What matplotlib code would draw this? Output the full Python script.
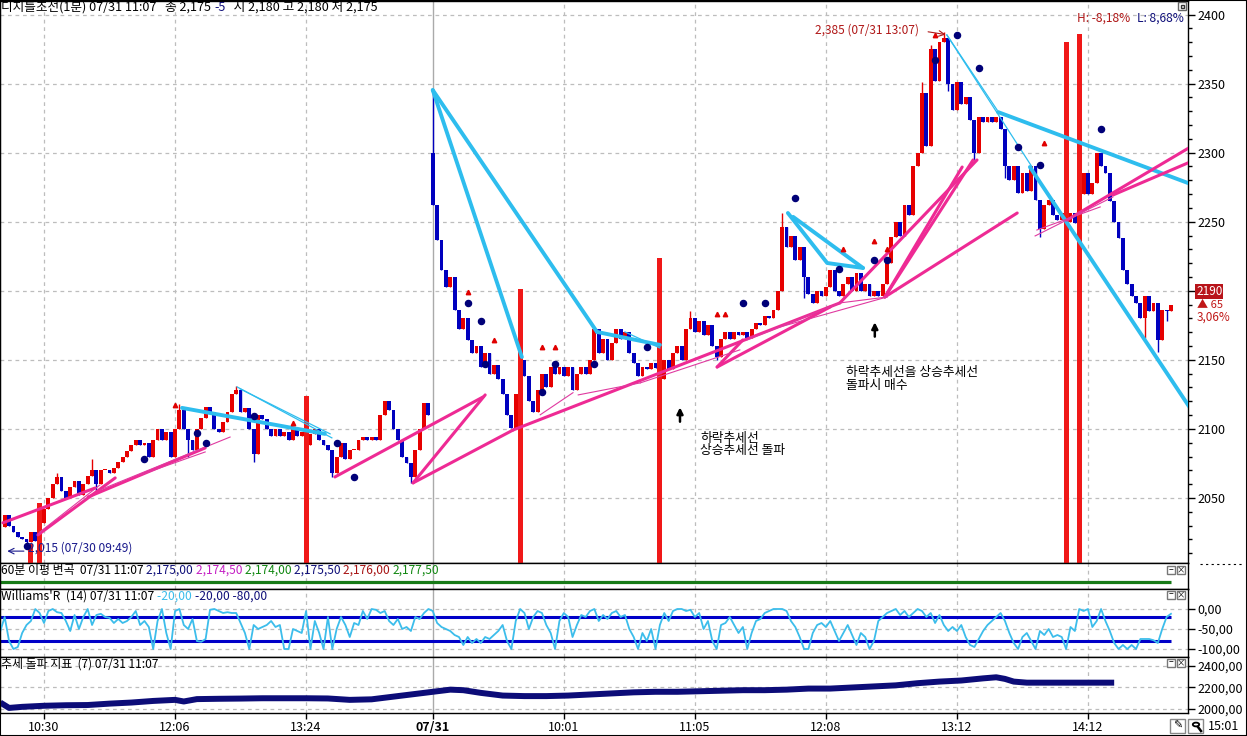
import numpy as np
import matplotlib
matplotlib.use('Agg')
import matplotlib.pyplot as plt
from matplotlib.transforms import blended_transform_factory as blend
from matplotlib.patches import Rectangle, Circle
from matplotlib.lines import Line2D
from matplotlib.ticker import MultipleLocator

plt.rcParams['font.family'] = ['Noto Sans CJK KR', 'DejaVu Sans']
plt.rcParams['axes.unicode_minus'] = False

# ---------------- data ----------------
time_ticks = [10, 40, 70, 99, 129, 159, 189, 219, 249]
time_labels = ['10:30', '12:06', '13:24', '07/31', '10:01', '11:05', '12:08', '13:12', '14:12']
day_break = 99

closes = [
    2038, 2030, 2025, 2022, 2020, 2018, 2025, 2019, 2032, 2042,
    2050, 2060, 2065, 2055, 2050, 2058, 2062, 2052, 2060, 2066,
    2070, 2060, 2070, 2070, 2068, 2072, 2076, 2080, 2084, 2088,
    2092, 2088, 2090, 2080, 2092, 2100, 2092, 2098, 2080, 2100,
    2114, 2100, 2092, 2085, 2100, 2108, 2116, 2112, 2100, 2098,
    2105, 2112, 2125, 2128, 2112, 2115, 2100, 2082, 2110, 2107,
    2100, 2095, 2100, 2095, 2098, 2092, 2100, 2095, 2098, 2088,
    2096, 2100, 2092, 2088, 2085, 2068, 2080, 2090, 2078, 2085,
    2085, 2092, 2094, 2092, 2094, 2092, 2110, 2120, 2114, 2100,
    2092, 2080, 2075, 2065, 2085, 2100, 2119, 2110, 2262, 2237,
    2215, 2203, 2210, 2186, 2172, 2180, 2164, 2155, 2160, 2145,
    2155, 2140, 2146, 2136, 2125, 2110, 2101, 2125, 2150, 2138,
    2120, 2112, 2128, 2140, 2130, 2145, 2140, 2145, 2138, 2145,
    2128, 2140, 2145, 2140, 2150, 2172, 2155, 2165, 2150, 2162,
    2172, 2165, 2170, 2155, 2148, 2138, 2145, 2143, 2148, 2144,
    2136, 2150, 2143, 2155, 2160, 2150, 2172, 2180, 2170, 2178,
    2168, 2175, 2160, 2152, 2165, 2170, 2165, 2170, 2168, 2170,
    2166, 2172, 2177, 2175, 2182, 2180, 2186, 2200, 2246, 2232,
    2240, 2222, 2232, 2210, 2198, 2191, 2200, 2196, 2203, 2215,
    2200, 2196, 2205, 2210, 2200, 2213, 2200, 2205, 2196, 2200,
    2196, 2205, 2220, 2239, 2250, 2240, 2262, 2255, 2290, 2300,
    2343, 2305, 2375, 2352, 2380, 2383, 2350, 2331, 2351, 2335,
    2340, 2324, 2300, 2326, 2322, 2326, 2322, 2326, 2317, 2290,
    2280, 2290, 2271, 2285, 2272, 2290, 2266, 2245, 2262, 2266,
    2255, 2251, 2256, 2250, 2256, 2249, 2270, 2285, 2270, 2278,
    2300, 2290, 2285, 2265, 2250, 2238, 2215, 2205, 2196, 2191,
    2180, 2196, 2185, 2191, 2164, 2186, 2185, 2190]
open_override = {1: 2029, 99: 2300}
high_override = {13: 2068, 21: 2078, 41: 2118, 54: 2131, 89: 2120, 99: 2345,
                 158: 2185, 179: 2256, 211: 2351, 213: 2378, 216: 2387}
low_override = {6: 2015, 22: 2055, 43: 2080, 58: 2076, 76: 2065, 94: 2061,
                164: 2150, 184: 2195, 217: 2345, 223: 2295, 230: 2282, 238: 2239,
                262: 2166, 265: 2156, 267: 2178}

signal_idx = [7, 9, 70, 119, 151, 244, 247]
signal_top = [2017, 2046, 2124, 2201, 2224, 2380, 2386]

tri_idx = [40, 67, 107, 113, 124, 127, 164, 166, 193, 200, 203, 214, 239]
tri_price = [2117, 2104, 2199, 2164, 2159, 2159, 2183, 2183, 2230, 2236, 2230, 2385, 2307]
dot_idx = [6, 33, 45, 47, 58, 77, 81, 107, 110, 111, 124, 127, 136, 148, 170, 175, 182,
           192, 200, 203, 214, 219, 224, 233, 238, 252]
dot_price = [2015, 2078, 2097, 2090, 2109, 2090, 2065, 2191, 2178, 2147, 2127, 2147, 2147,
             2159, 2191, 2191, 2267, 2216, 2222, 2222, 2367, 2385, 2361, 2304, 2291, 2317]

cyan_thick = [
    [(99.0, 2345.3), (119.4, 2152.0)],
    [(99.0, 2345.3), (136.6, 2170.2)],
    [(136.6, 2170.2), (151.0, 2160.8)],
    [(41.6, 2115.2), (74.3, 2096.4)],
    [(181.5, 2253.5), (197.5, 2216.5)],
    [(180.3, 2256.3), (189.3, 2220.1), (197.5, 2216.5)],
    [(228.4, 2329.4), (272.5, 2277.3)],
    [(235.7, 2289.6), (272.5, 2114.5)],
]
cyan_thin = [
    [(143.0, 2170.2), (151.0, 2158.6)],
    [(54.2, 2130.4), (75.9, 2093.5)],
    [(54.9, 2129.0), (75.5, 2096.4)],
    [(216.7, 2385.2), (228.2, 2330.9)],
    [(216.7, 2385.2), (236.2, 2289.6)],
]
pink_thick = [
    [(0.6, 2032.0), (21.7, 2057.2)],
    [(8.6, 2023.2), (26.3, 2064.5)],
    [(20.1, 2050.7), (46.9, 2086.2)],
    [(76.6, 2065.2), (110.5, 2123.1)],
    [(94.5, 2060.9), (111.0, 2124.6)],
    [(94.5, 2060.9), (117.4, 2099.2)],
    [(117.4, 2099.2), (192.2, 2191.2)],
    [(164.1, 2144.8), (190.0, 2188.3)],
    [(164.1, 2144.8), (170.0, 2164.4)],
    [(192.2, 2191.2), (223.6, 2294.7)],
    [(202.5, 2195.5), (222.7, 2294.7)],
    [(202.5, 2195.5), (220.2, 2289.6)],
    [(202.5, 2195.5), (232.8, 2256.3)],
    [(244.2, 2251.2), (272.5, 2304.2)],
    [(254.7, 2269.3), (272.5, 2293.4)],
]
pink_thin = [
    [(9.1, 2025.4), (22.8, 2059.4)],
    [(22.8, 2055.8), (52.6, 2094.1)],
    [(32.0, 2066.6), (46.9, 2083.3)],
    [(123.6, 2110.2), (131.1, 2126.2)],
    [(132.3, 2124.6), (146.5, 2133.3)],
    [(146.5, 2133.3), (169.3, 2157.2)],
    [(170.9, 2164.4), (192.2, 2191.2)],
    [(178.5, 2173.8), (203.0, 2195.5)],
    [(192.2, 2191.2), (203.0, 2195.5)],
    [(236.9, 2239.7), (254.7, 2267.9)],
    [(237.3, 2244.0), (251.8, 2260.7)],
]

wr = [
    -55, -20, -80, -100, -95, -60, -40, -30, 0, -10,
    -35, -5, 0, -8, -10, -30, -55, -15, -50, -20,
    0, -40, -15, -12, -20, -22, -35, -25, -35, -30,
    -20, -5, -40, -30, -45, -100, -30, 0, -60, -100,
    -5, 0, -40, -50, -25, -80, -82, -75, -2, 0,
    -5, -10, -8, -10, -10, -35, -60, -100, -40, -50,
    -45, -40, -30, -45, -40, -100, -100, -50, -55, -60,
    -5, -100, -30, -60, -100, -20, -100, -50, -20, -40,
    -70, -35, -40, -5, -25, 0, -2, -10, -5, -30,
    -40, -25, -50, -45, -55, -20, -25, -10, 0, -5,
    -35, -45, -50, -55, -65, -70, -90, -70, -85, -75,
    -85, -70, -75, -65, -55, -40, -80, -100, -30, 0,
    -10, -50, -20, -5, -10, -40, -60, -100, -30, -10,
    -20, -70, -40, -15, -20, -5, 0, -30, -15, -25,
    -10, -5, -20, -15, -50, -70, -100, -60, -80, -50,
    -100, -40, -10, -30, -5, 0, 0, -5, -2, -20,
    -10, -50, -30, -80, -100, -40, -35, -20, -40, -60,
    -45, -100, -60, -30, -25, -10, -5, 0, 0, 0,
    -5, -30, -45, -70, -100, -100, -60, -40, -35, -45,
    -30, -55, -80, -60, -40, -65, -90, -60, -70, -100,
    -80, -30, -20, -10, -5, 0, -15, -5, -20, -10,
    0, -5, -20, -10, -35, -15, -40, -55, -45, -55,
    -40, -70, -90, -95, -75, -55, -40, -30, -20, -10,
    -30, -60, -85, -100, -70, -60, -80, -100, -55, -65,
    -50, -70, -65, -70, -100, -45, -55, 0, -5, 0,
    -45, -30, 0, -30, -55, -85, -100, -90, -100, -90,
    -100, -75, -75, -75, -78, -85, -50, -20, -12]
wr_levels = [-20, -80]

tb_idx = [0, 2, 5, 10, 15, 20, 25, 30, 35, 40, 42, 45, 50, 55, 60, 65, 70, 75, 80, 85,
          90, 95, 100, 103, 106, 110, 115, 120, 125, 130, 135, 140, 145, 150, 155, 160,
          165, 170, 175, 180, 185, 190, 195, 200, 205, 210, 215, 220, 225, 228, 230, 232,
          235, 240, 245, 250, 255]
tb_val = [2060, 2010, 2020, 2030, 2035, 2037, 2050, 2060, 2075, 2085, 2070, 2092, 2095,
          2097, 2100, 2100, 2100, 2098, 2085, 2090, 2115, 2140, 2165, 2180, 2175, 2150,
          2125, 2120, 2120, 2125, 2135, 2145, 2155, 2160, 2160, 2165, 2170, 2175, 2175,
          2180, 2190, 2190, 2200, 2210, 2220, 2240, 2255, 2265, 2285, 2295, 2280, 2255,
          2245, 2245, 2245, 2245, 2245]

ma_idx = [0, 268]
ma_val = [0.27, 0.27]

price_change = 65
pct_change = '3,06%'

# ---------------- figure ----------------
W, H = 1247, 736
fig = plt.figure(figsize=(W / 100, H / 100), dpi=100)
fig.patch.set_facecolor('white')


def rect(x0, y0, x1, y1):
    return [x0 / W, 1 - y1 / H, (x1 - x0) / W, (y1 - y0) / H]


XL = (-0.073, 271.9)
ax1 = fig.add_axes(rect(0, 1, 1188, 563))
ax2 = fig.add_axes(rect(0, 563, 1188, 589))
ax3 = fig.add_axes(rect(0, 589, 1188, 657))
ax4 = fig.add_axes(rect(0, 657, 1188, 713))
GRID = '#BDBDBD'
DASH = (0, (3, 3))
for ax in (ax1, ax2, ax3, ax4):
    ax.set_xlim(*XL)
    for s in ax.spines.values():
        s.set_color('black')
        s.set_linewidth(1.0)
    ax.yaxis.tick_right()
    ax.set_facecolor('white')
    for t in time_ticks:
        if t == day_break:
            ax.axvline(t, color='#AAAAAA', lw=1.0, zorder=0)
        else:
            ax.axvline(t, color=GRID, lw=0.9, ls=DASH, zorder=0)
    ax.tick_params(axis='x', which='both', bottom=False, labelbottom=False)

# ---- main price panel ----
ax1.set_ylim(2002.9, 2409.8)
yt = list(range(2050, 2401, 50))
ax1.set_yticks(yt)
ax1.set_yticklabels(['' if v == 2200 else str(v) for v in yt])
ax1.yaxis.set_minor_locator(MultipleLocator(10))
ax1.tick_params(axis='y', which='major', length=5, width=1, labelsize=9, pad=1.5, direction='out')
ax1.tick_params(axis='y', which='minor', length=3.2, width=1, direction='out')
for v in yt:
    ax1.axhline(v, color=GRID, lw=0.9, ls=DASH, zorder=0)

pos = np.arange(1, len(closes) + 1)
opens, highs, lows, cols = [], [], [], []
for k, p in enumerate(pos):
    o = open_override.get(int(p), closes[k - 1] if k > 0 else closes[0])
    c = closes[k]
    opens.append(o)
    highs.append(high_override.get(int(p), max(o, c)))
    lows.append(low_override.get(int(p), min(o, c)))
    cols.append('#0000BE' if c < o else '#E60000')
opens = np.array(opens)
cl = np.array(closes)
bott = np.minimum(opens, cl)
hgt = np.maximum(np.abs(cl - opens), 0.8)
ax1.vlines(pos, lows, highs, colors=cols, lw=1.0, zorder=2)
ax1.bar(pos, hgt, bottom=bott, width=0.88, color=cols, linewidth=0, zorder=2)

# signal bars
ax1.bar(signal_idx, np.array(signal_top) - 1990, bottom=1990, width=1.15,
        color='#F01818', linewidth=0, zorder=3)

for seg in cyan_thick:
    xs, ys = zip(*seg)
    ax1.plot(xs, ys, color='#2EBDEE', lw=2.8, zorder=4, solid_capstyle='round')
for seg in cyan_thin:
    xs, ys = zip(*seg)
    ax1.plot(xs, ys, color='#2EBDEE', lw=0.9, zorder=4)
for seg in pink_thick:
    xs, ys = zip(*seg)
    ax1.plot(xs, ys, color='#EE2A94', lw=2.2, zorder=4, solid_capstyle='round')
for seg in pink_thin:
    xs, ys = zip(*seg)
    ax1.plot(xs, ys, color='#E03AA0', lw=0.8, zorder=4)

ax1.plot(tri_idx, tri_price, ls='none', marker='^', ms=3.2, color='#E00000', zorder=5)
ax1.plot(dot_idx, dot_price, ls='none', marker='o', ms=4.4, color='#000078', zorder=5)

# annotations
ax1.text(210.3, 2389, '2,385 (07/31 13:07)', color='#B01818', ha='right', va='center',
         fontsize=8.6, zorder=10)
ax1.annotate('', xy=(216.4, 2385.5), xytext=(212.4, 2387.5),
             arrowprops=dict(arrowstyle='->', color='#B01818', lw=0.8, shrinkA=0, shrinkB=0),
             zorder=10)
ax1.text(6.3, 2013.5, '2,015 (07/30 09:49)', color='#1A1A8C', ha='left', va='center',
         fontsize=8.6, zorder=10)
ax1.annotate('', xy=(1.6, 2011.5), xytext=(5.4, 2011.5),
             arrowprops=dict(arrowstyle='->', color='#1A1A8C', lw=0.8, shrinkA=0, shrinkB=0),
             zorder=10)
ax1.text(160.2, 2093.4, '하락추세선', ha='left', va='center', fontsize=9.2, zorder=10)
ax1.text(160.2, 2084.0, '상승추세선 돌파', ha='left', va='center', fontsize=9.2, zorder=10)
ax1.text(193.6, 2140.6, '하락추세선을 상승추세선', ha='left', va='center', fontsize=9.2, zorder=10)
ax1.text(193.6, 2131.1, '돌파시 매수', ha='left', va='center', fontsize=9.2, zorder=10)
for ax_x, y0, y1 in [(155.6, 2105.2, 2115.6), (200.2, 2166.8, 2177.2)]:
    ax1.annotate('', xy=(ax_x, y1), xytext=(ax_x, y0),
                 arrowprops=dict(arrowstyle='-|>', color='black', lw=1.8, mutation_scale=9,
                                 shrinkA=0, shrinkB=0), zorder=10)


def rainbow(ax, x, y, pieces, size=8.5, transform=None):
    t = ax.text(x, y, pieces[0][0], color=pieces[0][1], fontsize=size, va='center',
                ha='left', transform=transform, zorder=12)
    for s, col in pieces[1:]:
        t = ax.annotate(s, xy=(1, 0), xycoords=t, xytext=(0, 0), textcoords='offset points',
                        va='bottom', ha='left', color=col, fontsize=size, zorder=12,
                        annotation_clip=False)
    return t


NAVY = '#10107A'
rainbow(ax1, 0.001, (563 - 7) / 562,
        [('디지틀조선(1분) 07/31 11:07   종 2,175 ', 'black'), ('-5', NAVY),
         ('   시 2,180 고 2,180 저 2,175', 'black')], size=9.1, transform=ax1.transAxes)

hl_y = (563 - 18) / 562
ax1.text(1184 / 1188, hl_y, 'L: 8,68%', color=NAVY, ha='right', va='center', fontsize=8.6,
         transform=ax1.transAxes, zorder=12)
ax1.text(1130 / 1188, hl_y, 'H: -8,18%', color='#B01818', ha='right', va='center', fontsize=8.6,
         transform=ax1.transAxes, zorder=12)

tr = blend(ax1.transAxes, ax1.transData)
ax1.text(1196 / 1188, 2199.3, str(closes[-1]), transform=tr, color='white', fontsize=8.5,
         va='center', ha='left', clip_on=False, zorder=12,
         bbox=dict(boxstyle='square,pad=0.08', fc='#B8141A', ec='none'))
ax1.text(1197 / 1188, 2189.6, '▲ ' + str(price_change), transform=tr, color='#C01818',
         fontsize=8, va='center', ha='left', clip_on=False)
ax1.text(1197 / 1188, 2181.0, pct_change, transform=tr, color='#C01818', fontsize=8.5,
         va='center', ha='left', clip_on=False)

# ---- panel 2 ----
ax2.set_ylim(0, 1)
ax2.set_yticks([])
ax2.plot(ma_idx, ma_val, color='#167A16', lw=2.3, solid_capstyle='butt')
rainbow(ax2, 0.001, (589 - 570) / 26,
        [('60분 이평 변곡  07/31 11:07 ', 'black'), ('2,175,00 ', NAVY), ('2,174,50 ', '#C41EC4'),
         ('2,174,00 ', '#118811'), ('2,175,50 ', NAVY), ('2,176,00 ', '#A81414'),
         ('2,177,50', '#118811')], size=8.6, transform=ax2.transAxes)

# ---- Williams %R ----
ax3.set_ylim(-120, 50)
ax3.set_yticks([0, -50, -100])
ax3.set_yticklabels(['0,00', '-50,00', '-100,00'])
ax3.tick_params(axis='y', length=5, width=1, labelsize=9, pad=1.5)
for v in [0, -50, -100]:
    ax3.axhline(v, color=GRID, lw=0.9, ls=DASH, zorder=0)
for lv in wr_levels:
    ax3.plot([0, 268], [lv, lv], color='#0000C8', lw=2.2, zorder=2, solid_capstyle='butt')
ax3.plot(np.arange(len(wr)), wr, color='#3CBDEB', lw=1.3, zorder=3)
rainbow(ax3, 0.001, (657 - 596) / 68,
        [("Williams'R  (14) 07/31 11:07 ", 'black'), ('-20,00 ', '#3CBDEB'),
         ('-20,00 -80,00', NAVY)], size=8.7, transform=ax3.transAxes)

# ---- trend breakout indicator ----
ax4.set_ylim(1962.8, 2483.7)
ax4.set_yticks([2000, 2200, 2400])
ax4.set_yticklabels(['2000,00', '2200,00', '2400,00'])
ax4.tick_params(axis='y', length=5, width=1, labelsize=9, pad=1.5)
for v in [2000, 2200, 2400]:
    ax4.axhline(v, color=GRID, lw=0.9, ls=DASH, zorder=0)
ax4.plot(tb_idx, tb_val, color='#0C0C78', lw=4.3, zorder=3, solid_capstyle='butt')
ax4.text(0.001, (713 - 664) / 56, '추세 돌파 지표  (7) 07/31 11:07', transform=ax4.transAxes,
         fontsize=8.6, va='center', ha='left', zorder=12)

ax4.set_xticks(time_ticks)
ax4.set_xticklabels(time_labels)
ax4.tick_params(axis='x', which='major', bottom=True, labelbottom=True, length=4, width=1,
                direction='out', labelsize=9, pad=1.5)
for lab in ax4.get_xticklabels():
    if lab.get_text() == '07/31':
        lab.set_fontweight('bold')

fig.text(1224 / W, 1 - 727 / H, '15:01', fontsize=9, ha='center', va='center')


# ---- small window icons ----
def px_rect(x0, y0, w, h, **kw):
    fig.add_artist(Rectangle((x0 / W, 1 - (y0 + h) / H), w / W, h / H,
                             transform=fig.transFigure, **kw))


px_rect(1178, 2, 8, 8, fill=False, ec='#666666', lw=1)
px_rect(1180.5, 4.5, 3, 3, fill=False, ec='#333333', lw=1)
for yy in (566, 591, 659):
    px_rect(1167, yy, 8, 8, fc='white', ec='#777777', lw=1)
    px_rect(1177, yy, 8, 8, fc='white', ec='#777777', lw=1)
    fig.text(1171 / W, 1 - (yy + 4) / H, '−', fontsize=6, ha='center', va='center')
    fig.text(1181 / W, 1 - (yy + 4) / H, '×', fontsize=6, ha='center', va='center')
px_rect(1170, 719, 15, 14, fc='white', ec='#888888', lw=1)
px_rect(1188, 719, 15, 14, fc='white', ec='#888888', lw=1)
fig.text(1177.5 / W, 1 - 726 / H, '✎', fontsize=8, ha='center', va='center',
         family=['DejaVu Sans'])
fig.add_artist(Circle((1196 / W, 1 - 724.5 / H), 3.2 / W, transform=fig.transFigure,
                      fill=False, ec='black', lw=1.3))
fig.add_artist(Line2D([1198 / W, 1201 / W], [1 - 727 / H, 1 - 731 / H],
                      transform=fig.transFigure, color='black', lw=1.8))
fig.add_artist(Line2D([1200 / W, 1243 / W], [1 - 564 / H, 1 - 564 / H],
                      transform=fig.transFigure, color='black', lw=0.8, ls=(0, (2, 3))))
# outer frame
fig.add_artist(Rectangle((0, 0), 1, 1, transform=fig.transFigure, fill=False,
                         ec='black', lw=1.5))

fig.savefig('out.png', dpi=100, facecolor='white')
